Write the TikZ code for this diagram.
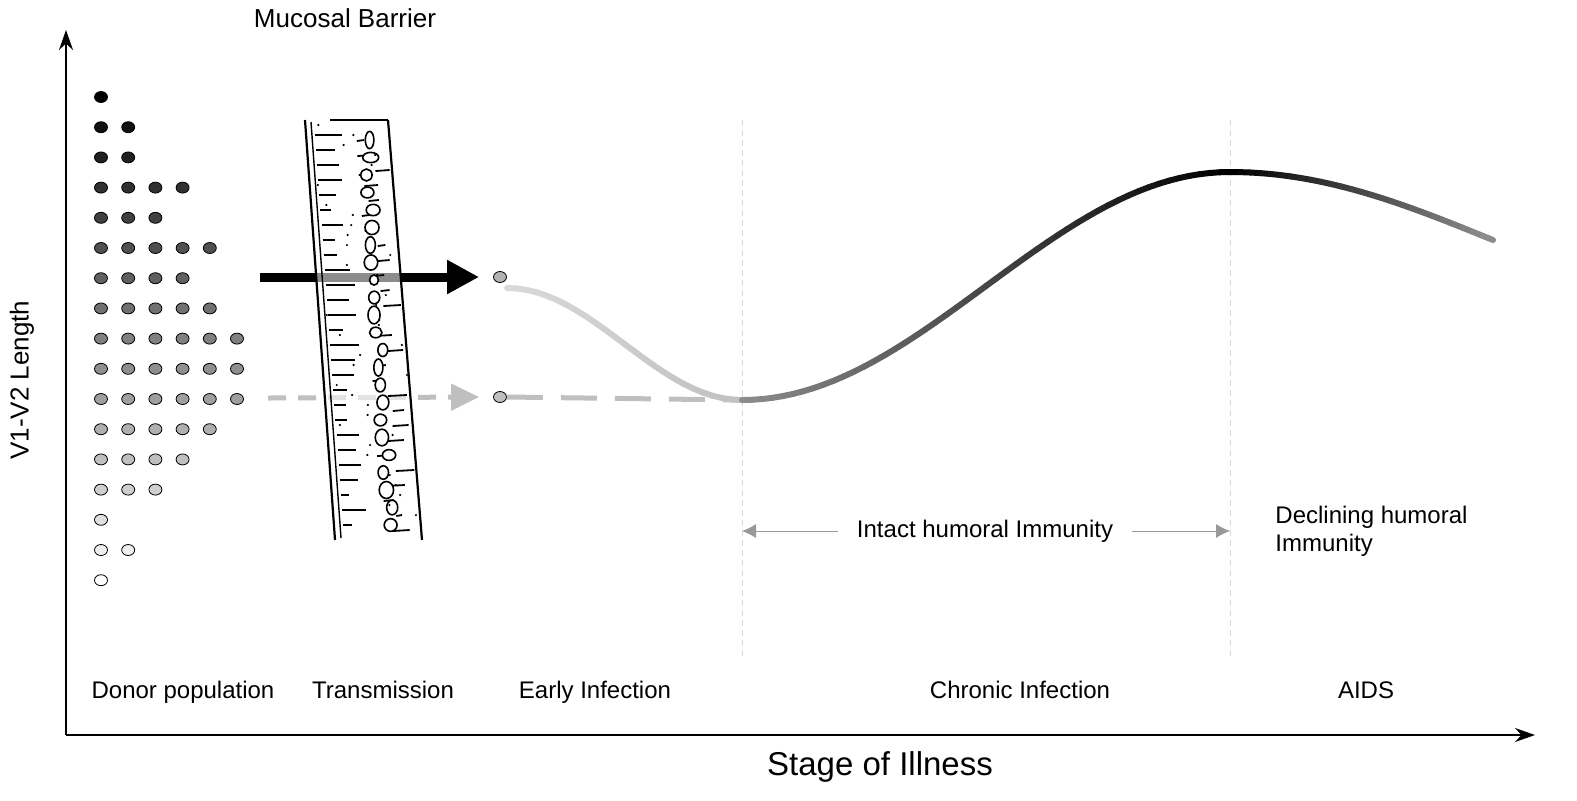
\documentclass[tikz,border=0pt]{standalone}
\usepackage{fontspec}
\setmainfont{Liberation Sans}
\usetikzlibrary{arrows.meta,positioning,shapes.geometric}
\tikzset{
  virion/.style={draw=black,thin,ellipse,minimum width=6.5pt,minimum height=5.5pt,inner sep=0pt},
  stagelabel/.style={font=\fontsize{12}{14}\selectfont,anchor=base},
  axisline/.style={draw=black!45,line width=0.9pt},
  divider/.style={draw=black!15,densely dashed,very thin},
  spanarrow/.style={draw=black!40,-{Latex[length=7pt,width=7pt]}},
  course/.style={line width=3pt,line cap=round}
}
\begin{document}
\begin{tikzpicture}[x=0.5pt,y=-0.5pt]
  \useasboundingbox (0,0) rectangle (1577,800);
  % axes
  \draw[axisline,-{Stealth[length=10pt,width=7pt]},draw=black] (66,735) -- (66,30);
  \draw[axisline,-{Stealth[length=10pt,width=7pt]},draw=black] (66,735) -- (1535,735);
  \node[rotate=90,font=\fontsize{13}{15}\selectfont] (ylab) at (22,380) {V1-V2 Length};
  \node[font=\fontsize{16.5}{19}\selectfont] (xlab) at (880,767) {Stage of Illness};
  \node[font=\fontsize{13}{15}\selectfont] (barrierlab) at (345,18) {Mucosal Barrier};
  % donor population
  \foreach \n [count=\r from 0] in {1,2,2,4,3,5,4,5,6,6,6,5,4,3,1,2,1}{
    \pgfmathsetmacro\shade{100-\r*100/16}
    \foreach \c in {1,...,\n}{
      \node[virion,fill=black!\shade] (d-\r-\c) at ({101+(\c-1)*27.2},{97+\r*30.2}) {};
    }
  }
  % transmitted variants
  \node[virion,fill=black!30] (early1) at (500,277) {};
  \node[virion,fill=black!25] (early2) at (500,397) {};
  \coordinate (src1) at (260,277);
  \coordinate (src2) at (268,398);
  \draw[line width=4.5pt,-{Triangle[length=16pt,width=16pt]}] (src1) -- ([xshift=-7pt]early1.west);
  \draw[black!25,line width=2.5pt,dash pattern=on 9pt off 6pt,-{Triangle[length=14pt,width=13pt]}] (src2) -- ([xshift=-7pt]early2.west);
  % mucosal barrier
  \fill[white,opacity=0.55] (305,120) -- (388,120) -- (422,540) -- (335,540) -- cycle;
  \draw[line width=1.1pt] (305,120) -- (335,540);
  \draw[line width=0.7pt] (311,122) -- (341,538);
  \draw[line width=1.1pt] (388,120) -- (422,540);
  \draw[line width=0.9pt] (330,120) -- (388,120);
  \pgfmathsetseed{7}
  \foreach \k in {0,...,26}{
    \pgfmathsetmacro\yy{135+\k*15}
    \pgfmathsetmacro\xl{308+(\yy-120)/420*30}
    \pgfmathsetmacro\len{8+rnd*22}
    \pgfmathsetmacro\xm{\xl+45+rnd*20}
    \pgfmathsetmacro\lm{5+rnd*15}
    \draw[line width=1pt] (\xl+6,\yy) -- ++(\len,0);
    \draw[line width=0.9pt] (\xm,\yy+6) -- ++(\lm,-1);
  }
  \foreach \k in {0,...,22}{
    \pgfmathsetmacro\yy{140+\k*17.5}
    \pgfmathsetmacro\xc{362+(\yy-120)/420*25+rnd*8}
    \pgfmathsetmacro\ra{2+rnd*2}
    \pgfmathsetmacro\rb{2.5+rnd*2}
    \draw[line width=0.8pt,fill=white] (\xc,\yy) ellipse ({\ra pt} and {\rb pt});
  }
  \foreach \k in {0,...,40}{
    \pgfmathsetmacro\xd{312+rnd*80+\k/420*300}
    \fill (\xd,{125+\k*10}) circle (0.6pt);
  }
  % stage dividers
  \coordinate (div1top) at (742,120);
  \coordinate (div1bot) at (742,660);
  \coordinate (div2top) at (1230,120);
  \coordinate (div2bot) at (1230,660);
  \draw[divider] (div1top) -- (div1bot);
  \draw[divider] (div2top) -- (div2bot);
  % V1-V2 length course
  \draw[black!25,line width=2.5pt,dash pattern=on 18pt off 9pt] (early2.east) -- (742,400);
  \foreach \i in {0,...,23}{
    \pgfmathsetmacro\shade{15+\i*0.4}
    \pgfmathsetmacro\xa{507+\i/24*235}
    \pgfmathsetmacro\xb{507+(\i+1)/24*235}
    \pgfmathsetmacro\ya{344-56*cos(180*\i/24)}
    \pgfmathsetmacro\yb{344-56*cos(180*(\i+1)/24)}
    \draw[course,black!\shade] (\xa,\ya) -- (\xb,\yb);
  }
  \foreach \i in {0,...,47}{
    \pgfmathsetmacro\shade{45+\i/47*55}
    \pgfmathsetmacro\xa{742+\i/48*488}
    \pgfmathsetmacro\xb{742+(\i+1)/48*488}
    \pgfmathsetmacro\ya{286+114*cos(180*\i/48)}
    \pgfmathsetmacro\yb{286+114*cos(180*(\i+1)/48)}
    \draw[course,black!\shade] (\xa,\ya) -- (\xb,\yb);
  }
  \foreach \i in {0,...,25}{
    \pgfmathsetmacro\shade{100-\i/25*55}
    \pgfmathsetmacro\xa{1230+\i/26*263}
    \pgfmathsetmacro\xb{1230+(\i+1)/26*263}
    \pgfmathsetmacro\ya{172+68*(1-cos(90*\i/26))}
    \pgfmathsetmacro\yb{172+68*(1-cos(90*(\i+1)/26))}
    \draw[course,black!\shade] (\xa,\ya) -- (\xb,\yb);
  }
  % immunity spans
  \node[font=\fontsize{12}{14}\selectfont] (intact) at (985,531) {Intact humoral Immunity};
  \draw[spanarrow] (intact.west) ++(-12,0) -- (742,531);
  \draw[spanarrow] (intact.east) ++(12,0) -- (1230,531);
  \node[font=\fontsize{12}{14}\selectfont,align=left,anchor=north west,inner sep=0pt] (declining) at (1275,506) {Declining humoral\\Immunity};
  % stage labels
  \node[stagelabel] (donor) at (183,698) {Donor population};
  \node[stagelabel] (trans) at (383,698) {Transmission};
  \node[stagelabel] (early) at (595,698) {Early Infection};
  \node[stagelabel] (chronic) at (1020,698) {Chronic Infection};
  \node[stagelabel] (aids) at (1366,698) {AIDS};
\end{tikzpicture}
\end{document}
